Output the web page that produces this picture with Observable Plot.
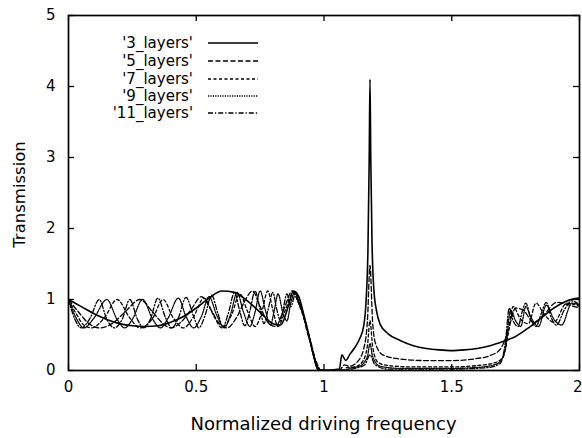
<!DOCTYPE html>
<html>
<head>
<meta charset="utf-8">
<script src="https://cdn.jsdelivr.net/npm/d3@7"></script>
<script src="https://cdn.jsdelivr.net/npm/@observablehq/plot@0.6"></script>
<style>
  html, body { margin: 0; padding: 0; background: #fff; }
  #chart svg { display: block; }
</style>
</head>
<body>
<div id="chart"></div>
<script>
// ---- Data ----
const seriesNames = ["'3_layers'", "'5_layers'", "'7_layers'", "'9_layers'", "'11_layers'"];
const xTicks = [0, 0.5, 1, 1.5, 2];
const yTicks = [0, 1, 2, 3, 4, 5];
const xTickLabels = ["0", "0.5", "1", "1.5", "2"];
const yTickLabels = ["0", "1", "2", "3", "4", "5"];
const xTitle = "Normalized driving frequency";
const yTitle = "Transmission";

const layers3 = [
  [0,1.0],[0.05,0.9],[0.1,0.8],[0.15,0.72],[0.2,0.66],[0.25,0.63],[0.3,0.62],[0.35,0.63],[0.4,0.68],[0.45,0.76],
  [0.5,0.88],[0.55,1.02],[0.6,1.12],[0.65,1.1],[0.7,0.98],[0.75,0.82],[0.8,0.66],[0.83,0.64],[0.86,0.9],[0.88,1.12],
  [0.9,1.05],[0.92,0.8],[0.94,0.5],[0.96,0.2],[0.975,0.02],[1.0,0],[1.06,0.02],[1.07,0.22],[1.085,0.14],[1.1,0.22],
  [1.12,0.32],[1.14,0.45],[1.155,0.62],[1.165,1.0],[1.172,1.7],[1.177,3.0],[1.18,4.1],[1.183,3.0],[1.188,1.8],[1.195,1.15],
  [1.205,0.85],[1.22,0.65],[1.25,0.52],[1.3,0.42],[1.35,0.35],[1.4,0.31],[1.45,0.29],[1.5,0.28],[1.55,0.29],[1.6,0.31],
  [1.65,0.35],[1.7,0.41],[1.75,0.48],[1.8,0.6],[1.85,0.74],[1.9,0.88],[1.95,0.98],[2.0,1.02]
];
const layers5 = [
  [0,1.0],[0.04,0.82],[0.08,0.66],[0.12,0.6],[0.17,0.66],[0.22,0.82],[0.28,1.0],[0.33,0.82],[0.37,0.66],[0.4,0.6],
  [0.44,0.68],[0.48,0.86],[0.52,1.04],[0.56,0.84],[0.59,0.66],[0.62,0.6],[0.66,0.76],[0.69,0.98],[0.72,1.12],[0.75,0.9],
  [0.78,0.68],[0.81,0.62],[0.845,0.88],[0.875,1.12],[0.895,1.0],[0.915,0.85],[0.93,0.6],[0.95,0.35],[0.965,0.12],[0.98,0.0],
  [1.0,0],[1.06,0],[1.08,0.08],[1.1,0.06],[1.13,0.12],[1.155,0.3],[1.17,0.7],[1.18,1.48],[1.19,0.7],[1.2,0.4],
  [1.23,0.22],[1.3,0.16],[1.4,0.14],[1.5,0.14],[1.6,0.17],[1.65,0.21],[1.69,0.3],[1.72,0.55],[1.75,0.88],[1.78,0.85],
  [1.82,0.68],[1.86,0.78],[1.91,0.96],[1.96,0.92],[2.0,0.88]
];
const layers7 = [
  [0,1.0],[0.03,0.8],[0.06,0.64],[0.09,0.6],[0.14,0.74],[0.19,1.0],[0.24,0.74],[0.28,0.6],[0.33,0.74],[0.37,1.0],
  [0.41,0.74],[0.45,0.6],[0.49,0.76],[0.53,1.02],[0.57,0.76],[0.6,0.6],[0.64,0.8],[0.67,1.08],[0.7,0.84],[0.73,0.62],
  [0.755,0.8],[0.78,1.12],[0.8,0.85],[0.82,0.62],[0.85,0.86],[0.88,1.1],[0.9,0.95],[0.92,0.75],[0.94,0.5],[0.96,0.2],
  [0.98,0.02],[1.0,0],[1.07,0],[1.09,0.04],[1.12,0.05],[1.15,0.12],[1.17,0.35],[1.18,0.7],[1.19,0.35],[1.21,0.12],
  [1.25,0.07],[1.35,0.05],[1.5,0.05],[1.6,0.07],[1.66,0.1],[1.7,0.18],[1.72,0.5],[1.74,0.9],[1.77,0.72],[1.8,0.66],
  [1.83,0.95],[1.86,0.8],[1.9,0.68],[1.95,0.95],[2.0,0.9]
];
const layers9 = [
  [0,1.0],[0.03,0.74],[0.06,0.6],[0.1,0.74],[0.15,1.0],[0.19,0.72],[0.22,0.6],[0.25,0.72],[0.29,1.0],[0.33,0.72],
  [0.36,0.6],[0.39,0.74],[0.43,1.02],[0.46,0.76],[0.49,0.6],[0.52,0.76],[0.55,1.04],[0.58,0.78],[0.61,0.6],[0.635,0.8],
  [0.66,1.1],[0.685,0.82],[0.71,0.62],[0.73,0.82],[0.75,1.12],[0.77,0.86],[0.79,0.64],[0.805,0.84],[0.82,1.08],[0.84,0.8],
  [0.855,0.7],[0.87,0.95],[0.885,1.1],[0.905,0.92],[0.925,0.7],[0.945,0.42],[0.965,0.15],[0.985,0.0],[1.0,0],[1.08,0],
  [1.1,0.03],[1.14,0.06],[1.17,0.2],[1.18,0.38],[1.19,0.2],[1.22,0.06],[1.3,0.03],[1.5,0.03],[1.62,0.05],[1.68,0.1],
  [1.71,0.3],[1.73,0.85],[1.75,0.7],[1.77,0.62],[1.79,0.9],[1.81,0.75],[1.84,0.62],[1.87,0.92],[1.9,0.72],[1.93,0.64],
  [1.97,0.95],[2.0,0.92]
];
const layers11 = [
  [0,1.0],[0.025,0.72],[0.05,0.6],[0.085,0.74],[0.12,1.0],[0.15,0.72],[0.18,0.6],[0.21,0.72],[0.24,1.0],[0.27,0.72],
  [0.295,0.6],[0.32,0.72],[0.35,1.02],[0.38,0.74],[0.405,0.6],[0.43,0.74],[0.46,1.03],[0.49,0.76],[0.51,0.6],[0.535,0.78],
  [0.56,1.06],[0.585,0.8],[0.605,0.62],[0.625,0.8],[0.65,1.1],[0.67,0.84],[0.69,0.63],[0.71,0.84],[0.73,1.12],[0.75,0.86],
  [0.765,0.66],[0.78,0.84],[0.8,1.1],[0.815,0.86],[0.83,0.7],[0.84,0.86],[0.855,1.08],[0.87,0.9],[0.89,1.1],[0.91,0.88],
  [0.93,0.66],[0.95,0.38],[0.97,0.12],[0.99,0.0],[1.0,0],[1.08,0],[1.12,0.03],[1.16,0.08],[1.18,0.22],[1.2,0.08],
  [1.25,0.02],[1.5,0.02],[1.64,0.04],[1.69,0.1],[1.71,0.4],[1.725,0.88],[1.74,0.7],[1.76,0.62],[1.775,0.82],[1.79,0.95],
  [1.81,0.72],[1.83,0.62],[1.85,0.8],[1.87,0.96],[1.89,0.74],[1.91,0.64],[1.94,0.85],[1.97,0.98],[2.0,0.92]
];

const allSeries = [layers3, layers5, layers7, layers9, layers11];
const dashes = [null, "5,2.5", "3,2.5", "1.2,1.2", "5,2,1.2,2"];
const widths = [1.6, 1.3, 1.3, 1.3, 1.3];

// ---- Layout ----
const W = 582, H = 438;
const mL = 68, mR = 3, mT = 15, mB = 68;
const frameW = W - mL - mR, frameH = H - mT - mB;
const tick = 6;
const font = "'DejaVu Sans', Verdana, sans-serif";

const marks = [];
allSeries.forEach((s, i) => {
  marks.push(Plot.line(s, {
    x: d => d[0], y: d => d[1],
    stroke: "#000", strokeWidth: widths[i], strokeDasharray: dashes[i],
    curve: "monotone-x", clip: true
  }));
});
// inward ticks on all four sides (mirror)
marks.push(Plot.tickX(xTicks, {x: d => d, stroke: "#000", strokeWidth: 1.3, insetTop: frameH - tick}));
marks.push(Plot.tickX(xTicks, {x: d => d, stroke: "#000", strokeWidth: 1.3, insetBottom: frameH - tick}));
marks.push(Plot.tickY(yTicks, {y: d => d, stroke: "#000", strokeWidth: 1.3, insetRight: frameW - tick}));
marks.push(Plot.tickY(yTicks, {y: d => d, stroke: "#000", strokeWidth: 1.3, insetLeft: frameW - tick}));
marks.push(Plot.axisX(xTicks, {tickSize: 0, tickPadding: 11, label: null, fontSize: 15,
  tickFormat: (d) => xTickLabels[xTicks.indexOf(d)]}));
marks.push(Plot.axisY(yTicks, {tickSize: 0, tickPadding: 13, label: null, fontSize: 15,
  tickFormat: (d) => yTickLabels[yTicks.indexOf(d)]}));
marks.push(Plot.frame({stroke: "#000", strokeWidth: 1.7}));

const chart = Plot.plot({
  width: W, height: H,
  marginLeft: mL, marginRight: mR, marginTop: mT, marginBottom: mB,
  x: {domain: [0, 2]},
  y: {domain: [0, 5]},
  style: {fontFamily: font, color: "#000", background: "#fff"},
  marks
});

const svg = d3.select(chart);
// keep the last x tick label inside the picture
const xLabels = svg.selectAll('g[aria-label="x-axis tick label"] text').nodes();
if (xLabels.length) {
  const last = d3.select(xLabels[xLabels.length - 1]);
  last.attr("text-anchor", "end").attr("dx", 3);
}

// axis titles
svg.append("text")
  .attr("x", mL + frameW / 2).attr("y", 430)
  .attr("text-anchor", "middle")
  .attr("font-family", font).attr("font-size", 18).attr("fill", "#000")
  .text(xTitle);
svg.append("text")
  .attr("transform", `translate(25,${mT + frameH / 2 + 2}) rotate(-90)`)
  .attr("text-anchor", "middle")
  .attr("font-family", font).attr("font-size", 16.5).attr("fill", "#000")
  .text(yTitle);

// legend (gnuplot-style, inside the plot area)
const legend = svg.append("g").attr("font-family", font).attr("font-size", 15);
const rowY = [43, 61, 79, 96, 113];
seriesNames.forEach((name, i) => {
  legend.append("text")
    .attr("x", 193).attr("y", rowY[i]).attr("dy", "0.36em")
    .attr("text-anchor", "end").attr("fill", "#000")
    .text(name);
  legend.append("line")
    .attr("x1", 208).attr("x2", 258).attr("y1", rowY[i]).attr("y2", rowY[i])
    .attr("stroke", "#000").attr("stroke-width", widths[i])
    .attr("stroke-dasharray", dashes[i]);
});

document.getElementById("chart").appendChild(chart);
</script>
</body>
</html>
